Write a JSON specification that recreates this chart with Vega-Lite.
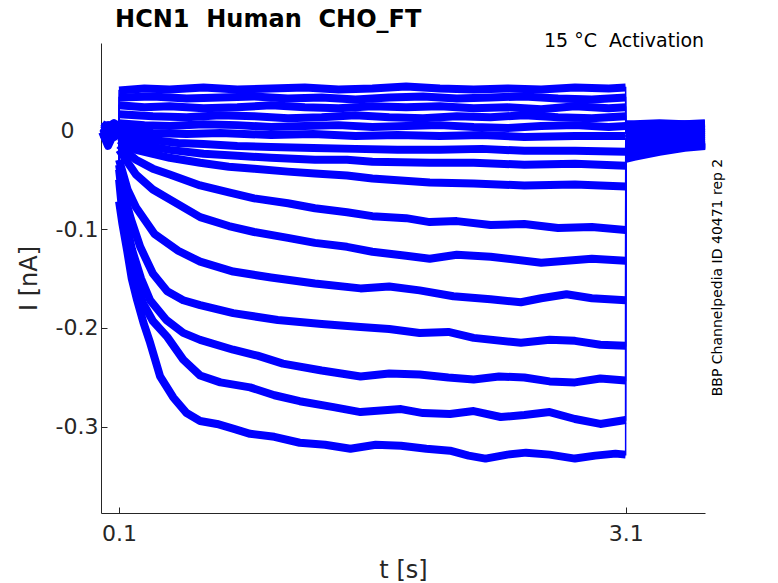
{
  "$schema": "https://vega.github.io/schema/vega-lite/v6.json",
  "description": "HCN1 activation current traces",
  "width": 604,
  "height": 470,
  "autosize": {"type": "none"},
  "padding": {"left": 101, "top": 43, "right": 73, "bottom": 70},
  "background": "white",
  "config": {
    "view": {"stroke": null},
    "axis": {
      "grid": false,
      "domainColor": "#262626",
      "tickColor": "#262626",
      "labelColor": "#262626",
      "titleColor": "#262626",
      "labelFont": "DejaVu Sans",
      "titleFont": "DejaVu Sans",
      "labelFontSize": 22,
      "titleFontSize": 24,
      "titleFontWeight": "normal",
      "tickSize": -6
    }
  },
  "datasets": {
    "traces": [
      {"s":1,"g":"a","t":0,"i":0.006},{"s":1,"g":"a","t":0.035,"i":0.003},{"s":1,"g":"a","t":0.07,"i":0.007},{"s":1,"g":"a","t":0.099,"i":0.004},
      {"s":1,"g":"b","t":0.1,"i":0.04},{"s":1,"g":"b","t":0.25,"i":0.042},{"s":1,"g":"b","t":0.4,"i":0.041},{"s":1,"g":"b","t":0.6,"i":0.043},{"s":1,"g":"b","t":0.8,"i":0.041},{"s":1,"g":"b","t":1.0,"i":0.042},{"s":1,"g":"b","t":1.2,"i":0.043},{"s":1,"g":"b","t":1.4,"i":0.041},{"s":1,"g":"b","t":1.6,"i":0.042},{"s":1,"g":"b","t":1.8,"i":0.044},{"s":1,"g":"b","t":2.0,"i":0.042},{"s":1,"g":"b","t":2.2,"i":0.041},{"s":1,"g":"b","t":2.4,"i":0.042},{"s":1,"g":"b","t":2.6,"i":0.041},{"s":1,"g":"b","t":2.8,"i":0.043},{"s":1,"g":"b","t":3.0,"i":0.042},{"s":1,"g":"b","t":3.1,"i":0.043},
      {"s":1,"g":"c","t":3.101,"i":0.006},{"s":1,"g":"c","t":3.15,"i":0.006},{"s":1,"g":"c","t":3.3,"i":0.007},{"s":1,"g":"c","t":3.45,"i":0.006},{"s":1,"g":"c","t":3.57,"i":0.007},

      {"s":2,"g":"a","t":0,"i":0.001},{"s":2,"g":"a","t":0.035,"i":0.004},{"s":2,"g":"a","t":0.07,"i":0.0},{"s":2,"g":"a","t":0.099,"i":0.002},
      {"s":2,"g":"b","t":0.1,"i":0.033},{"s":2,"g":"b","t":0.3,"i":0.034},{"s":2,"g":"b","t":0.5,"i":0.032},{"s":2,"g":"b","t":0.7,"i":0.033},{"s":2,"g":"b","t":0.9,"i":0.034},{"s":2,"g":"b","t":1.1,"i":0.032},{"s":2,"g":"b","t":1.3,"i":0.033},{"s":2,"g":"b","t":1.5,"i":0.031},{"s":2,"g":"b","t":1.7,"i":0.033},{"s":2,"g":"b","t":1.9,"i":0.034},{"s":2,"g":"b","t":2.1,"i":0.032},{"s":2,"g":"b","t":2.3,"i":0.033},{"s":2,"g":"b","t":2.5,"i":0.034},{"s":2,"g":"b","t":2.7,"i":0.032},{"s":2,"g":"b","t":2.9,"i":0.031},{"s":2,"g":"b","t":3.1,"i":0.033},
      {"s":2,"g":"c","t":3.101,"i":0.004},{"s":2,"g":"c","t":3.15,"i":0.005},{"s":2,"g":"c","t":3.3,"i":0.005},{"s":2,"g":"c","t":3.45,"i":0.006},{"s":2,"g":"c","t":3.57,"i":0.006},

      {"s":3,"g":"a","t":0,"i":-0.003},{"s":3,"g":"a","t":0.035,"i":0.0},{"s":3,"g":"a","t":0.07,"i":-0.002},{"s":3,"g":"a","t":0.099,"i":0.001},
      {"s":3,"g":"b","t":0.1,"i":0.025},{"s":3,"g":"b","t":0.25,"i":0.023},{"s":3,"g":"b","t":0.4,"i":0.024},{"s":3,"g":"b","t":0.6,"i":0.022},{"s":3,"g":"b","t":0.8,"i":0.023},{"s":3,"g":"b","t":1.0,"i":0.025},{"s":3,"g":"b","t":1.2,"i":0.023},{"s":3,"g":"b","t":1.4,"i":0.022},{"s":3,"g":"b","t":1.6,"i":0.024},{"s":3,"g":"b","t":1.8,"i":0.023},{"s":3,"g":"b","t":2.0,"i":0.024},{"s":3,"g":"b","t":2.2,"i":0.022},{"s":3,"g":"b","t":2.4,"i":0.023},{"s":3,"g":"b","t":2.6,"i":0.021},{"s":3,"g":"b","t":2.8,"i":0.024},{"s":3,"g":"b","t":3.0,"i":0.022},{"s":3,"g":"b","t":3.1,"i":0.023},
      {"s":3,"g":"c","t":3.101,"i":0.002},{"s":3,"g":"c","t":3.15,"i":0.002},{"s":3,"g":"c","t":3.3,"i":0.003},{"s":3,"g":"c","t":3.45,"i":0.003},{"s":3,"g":"c","t":3.57,"i":0.004},

      {"s":4,"g":"a","t":0,"i":0.002},{"s":4,"g":"a","t":0.035,"i":-0.004},{"s":4,"g":"a","t":0.07,"i":0.001},{"s":4,"g":"a","t":0.099,"i":-0.001},
      {"s":4,"g":"b","t":0.1,"i":0.016},{"s":4,"g":"b","t":0.3,"i":0.014},{"s":4,"g":"b","t":0.5,"i":0.013},{"s":4,"g":"b","t":0.7,"i":0.015},{"s":4,"g":"b","t":0.9,"i":0.014},{"s":4,"g":"b","t":1.1,"i":0.012},{"s":4,"g":"b","t":1.3,"i":0.013},{"s":4,"g":"b","t":1.5,"i":0.015},{"s":4,"g":"b","t":1.7,"i":0.013},{"s":4,"g":"b","t":1.9,"i":0.012},{"s":4,"g":"b","t":2.1,"i":0.014},{"s":4,"g":"b","t":2.3,"i":0.013},{"s":4,"g":"b","t":2.5,"i":0.015},{"s":4,"g":"b","t":2.7,"i":0.013},{"s":4,"g":"b","t":2.9,"i":0.012},{"s":4,"g":"b","t":3.1,"i":0.014},
      {"s":4,"g":"c","t":3.101,"i":0.0},{"s":4,"g":"c","t":3.15,"i":0.0},{"s":4,"g":"c","t":3.3,"i":0.001},{"s":4,"g":"c","t":3.45,"i":0.001},{"s":4,"g":"c","t":3.57,"i":0.002},

      {"s":5,"g":"a","t":0,"i":-0.006},{"s":5,"g":"a","t":0.035,"i":-0.002},{"s":5,"g":"a","t":0.07,"i":-0.005},{"s":5,"g":"a","t":0.099,"i":-0.001},
      {"s":5,"g":"b","t":0.1,"i":0.007},{"s":5,"g":"b","t":0.25,"i":0.005},{"s":5,"g":"b","t":0.4,"i":0.004},{"s":5,"g":"b","t":0.6,"i":0.006},{"s":5,"g":"b","t":0.8,"i":0.005},{"s":5,"g":"b","t":1.0,"i":0.003},{"s":5,"g":"b","t":1.2,"i":0.004},{"s":5,"g":"b","t":1.4,"i":0.005},{"s":5,"g":"b","t":1.6,"i":0.003},{"s":5,"g":"b","t":1.8,"i":0.004},{"s":5,"g":"b","t":2.0,"i":0.005},{"s":5,"g":"b","t":2.2,"i":0.003},{"s":5,"g":"b","t":2.4,"i":0.002},{"s":5,"g":"b","t":2.6,"i":0.004},{"s":5,"g":"b","t":2.8,"i":0.005},{"s":5,"g":"b","t":3.0,"i":0.003},{"s":5,"g":"b","t":3.1,"i":0.004},
      {"s":5,"g":"c","t":3.101,"i":-0.003},{"s":5,"g":"c","t":3.15,"i":-0.002},{"s":5,"g":"c","t":3.3,"i":-0.001},{"s":5,"g":"c","t":3.45,"i":-0.001},{"s":5,"g":"c","t":3.57,"i":0.0},

      {"s":6,"g":"a","t":0,"i":0.0},{"s":6,"g":"a","t":0.035,"i":0.002},{"s":6,"g":"a","t":0.07,"i":-0.003},{"s":6,"g":"a","t":0.099,"i":0.001},
      {"s":6,"g":"b","t":0.1,"i":0.0},{"s":6,"g":"b","t":0.3,"i":-0.003},{"s":6,"g":"b","t":0.5,"i":-0.004},{"s":6,"g":"b","t":0.7,"i":-0.003},{"s":6,"g":"b","t":1.0,"i":-0.005},{"s":6,"g":"b","t":1.25,"i":-0.004},{"s":6,"g":"b","t":1.5,"i":-0.006},{"s":6,"g":"b","t":1.75,"i":-0.005},{"s":6,"g":"b","t":2.0,"i":-0.006},{"s":6,"g":"b","t":2.25,"i":-0.005},{"s":6,"g":"b","t":2.5,"i":-0.007},{"s":6,"g":"b","t":2.8,"i":-0.006},{"s":6,"g":"b","t":3.1,"i":-0.006},
      {"s":6,"g":"c","t":3.101,"i":-0.006},{"s":6,"g":"c","t":3.15,"i":-0.005},{"s":6,"g":"c","t":3.3,"i":-0.003},{"s":6,"g":"c","t":3.45,"i":-0.003},{"s":6,"g":"c","t":3.57,"i":-0.002},

      {"s":7,"g":"a","t":0,"i":-0.004},{"s":7,"g":"a","t":0.035,"i":-0.008},{"s":7,"g":"a","t":0.07,"i":-0.005},{"s":7,"g":"a","t":0.099,"i":-0.003},
      {"s":7,"g":"b","t":0.1,"i":-0.004},{"s":7,"g":"b","t":0.2,"i":-0.008},{"s":7,"g":"b","t":0.3,"i":-0.01},{"s":7,"g":"b","t":0.45,"i":-0.013},{"s":7,"g":"b","t":0.6,"i":-0.014},{"s":7,"g":"b","t":0.8,"i":-0.016},{"s":7,"g":"b","t":1.0,"i":-0.017},{"s":7,"g":"b","t":1.25,"i":-0.018},{"s":7,"g":"b","t":1.5,"i":-0.019},{"s":7,"g":"b","t":1.75,"i":-0.02},{"s":7,"g":"b","t":2.0,"i":-0.02},{"s":7,"g":"b","t":2.25,"i":-0.019},{"s":7,"g":"b","t":2.5,"i":-0.021},{"s":7,"g":"b","t":2.8,"i":-0.021},{"s":7,"g":"b","t":3.1,"i":-0.022},
      {"s":7,"g":"c","t":3.101,"i":-0.009},{"s":7,"g":"c","t":3.15,"i":-0.008},{"s":7,"g":"c","t":3.3,"i":-0.006},{"s":7,"g":"c","t":3.45,"i":-0.005},{"s":7,"g":"c","t":3.57,"i":-0.004},

      {"s":8,"g":"a","t":0,"i":0.004},{"s":8,"g":"a","t":0.035,"i":0.001},{"s":8,"g":"a","t":0.07,"i":0.004},{"s":8,"g":"a","t":0.099,"i":0.002},
      {"s":8,"g":"b","t":0.1,"i":-0.007},{"s":8,"g":"b","t":0.2,"i":-0.014},{"s":8,"g":"b","t":0.4,"i":-0.02},{"s":8,"g":"b","t":0.6,"i":-0.024},{"s":8,"g":"b","t":0.8,"i":-0.026},{"s":8,"g":"b","t":1.0,"i":-0.028},{"s":8,"g":"b","t":1.26,"i":-0.03},{"s":8,"g":"b","t":1.45,"i":-0.03},{"s":8,"g":"b","t":1.6,"i":-0.032},{"s":8,"g":"b","t":1.94,"i":-0.033},{"s":8,"g":"b","t":2.2,"i":-0.033},{"s":8,"g":"b","t":2.5,"i":-0.035},{"s":8,"g":"b","t":2.8,"i":-0.034},{"s":8,"g":"b","t":3.1,"i":-0.036},
      {"s":8,"g":"c","t":3.101,"i":-0.012},{"s":8,"g":"c","t":3.15,"i":-0.011},{"s":8,"g":"c","t":3.3,"i":-0.008},{"s":8,"g":"c","t":3.45,"i":-0.007},{"s":8,"g":"c","t":3.57,"i":-0.006},

      {"s":9,"g":"a","t":0,"i":-0.001},{"s":9,"g":"a","t":0.035,"i":-0.005},{"s":9,"g":"a","t":0.07,"i":0.0},{"s":9,"g":"a","t":0.099,"i":-0.003},
      {"s":9,"g":"b","t":0.1,"i":-0.01},{"s":9,"g":"b","t":0.2,"i":-0.02},{"s":9,"g":"b","t":0.4,"i":-0.028},{"s":9,"g":"b","t":0.58,"i":-0.033},{"s":9,"g":"b","t":0.75,"i":-0.037},{"s":9,"g":"b","t":0.9,"i":-0.039},{"s":9,"g":"b","t":1.1,"i":-0.042},{"s":9,"g":"b","t":1.26,"i":-0.044},{"s":9,"g":"b","t":1.45,"i":-0.046},{"s":9,"g":"b","t":1.6,"i":-0.049},{"s":9,"g":"b","t":1.94,"i":-0.053},{"s":9,"g":"b","t":2.2,"i":-0.054},{"s":9,"g":"b","t":2.5,"i":-0.056},{"s":9,"g":"b","t":2.8,"i":-0.055},{"s":9,"g":"b","t":3.1,"i":-0.057},
      {"s":9,"g":"c","t":3.101,"i":-0.015},{"s":9,"g":"c","t":3.15,"i":-0.014},{"s":9,"g":"c","t":3.3,"i":-0.011},{"s":9,"g":"c","t":3.45,"i":-0.009},{"s":9,"g":"c","t":3.57,"i":-0.008},

      {"s":10,"g":"a","t":0,"i":0.002},{"s":10,"g":"a","t":0.035,"i":-0.002},{"s":10,"g":"a","t":0.07,"i":0.003},{"s":10,"g":"a","t":0.099,"i":0.0},
      {"s":10,"g":"b","t":0.1,"i":-0.015},{"s":10,"g":"b","t":0.2,"i":-0.03},{"s":10,"g":"b","t":0.3,"i":-0.039},{"s":10,"g":"b","t":0.4,"i":-0.045},{"s":10,"g":"b","t":0.58,"i":-0.056},{"s":10,"g":"b","t":0.75,"i":-0.063},{"s":10,"g":"b","t":0.9,"i":-0.069},{"s":10,"g":"b","t":1.1,"i":-0.074},{"s":10,"g":"b","t":1.26,"i":-0.079},{"s":10,"g":"b","t":1.45,"i":-0.083},{"s":10,"g":"b","t":1.6,"i":-0.087},{"s":10,"g":"b","t":1.8,"i":-0.089},{"s":10,"g":"b","t":1.94,"i":-0.093},{"s":10,"g":"b","t":2.1,"i":-0.092},{"s":10,"g":"b","t":2.3,"i":-0.096},{"s":10,"g":"b","t":2.5,"i":-0.095},{"s":10,"g":"b","t":2.7,"i":-0.099},{"s":10,"g":"b","t":2.9,"i":-0.098},{"s":10,"g":"b","t":3.1,"i":-0.101},
      {"s":10,"g":"c","t":3.101,"i":-0.018},{"s":10,"g":"c","t":3.15,"i":-0.017},{"s":10,"g":"c","t":3.3,"i":-0.013},{"s":10,"g":"c","t":3.45,"i":-0.011},{"s":10,"g":"c","t":3.57,"i":-0.01},

      {"s":11,"g":"a","t":0,"i":-0.006},{"s":11,"g":"a","t":0.035,"i":-0.003},{"s":11,"g":"a","t":0.07,"i":-0.007},{"s":11,"g":"a","t":0.099,"i":-0.004},
      {"s":11,"g":"b","t":0.1,"i":-0.02},{"s":11,"g":"b","t":0.2,"i":-0.045},{"s":11,"g":"b","t":0.3,"i":-0.06},{"s":11,"g":"b","t":0.4,"i":-0.07},{"s":11,"g":"b","t":0.58,"i":-0.088},{"s":11,"g":"b","t":0.75,"i":-0.097},{"s":11,"g":"b","t":0.9,"i":-0.103},{"s":11,"g":"b","t":1.1,"i":-0.109},{"s":11,"g":"b","t":1.26,"i":-0.114},{"s":11,"g":"b","t":1.45,"i":-0.118},{"s":11,"g":"b","t":1.6,"i":-0.123},{"s":11,"g":"b","t":1.8,"i":-0.127},{"s":11,"g":"b","t":1.94,"i":-0.13},{"s":11,"g":"b","t":2.1,"i":-0.126},{"s":11,"g":"b","t":2.3,"i":-0.128},{"s":11,"g":"b","t":2.6,"i":-0.134},{"s":11,"g":"b","t":2.9,"i":-0.13},{"s":11,"g":"b","t":3.1,"i":-0.132},
      {"s":11,"g":"c","t":3.101,"i":-0.021},{"s":11,"g":"c","t":3.15,"i":-0.019},{"s":11,"g":"c","t":3.3,"i":-0.015},{"s":11,"g":"c","t":3.45,"i":-0.013},{"s":11,"g":"c","t":3.57,"i":-0.011},

      {"s":12,"g":"a","t":0,"i":0.003},{"s":12,"g":"a","t":0.035,"i":0.005},{"s":12,"g":"a","t":0.07,"i":0.001},{"s":12,"g":"a","t":0.099,"i":0.004},
      {"s":12,"g":"b","t":0.1,"i":-0.03},{"s":12,"g":"b","t":0.15,"i":-0.06},{"s":12,"g":"b","t":0.2,"i":-0.078},{"s":12,"g":"b","t":0.31,"i":-0.105},{"s":12,"g":"b","t":0.45,"i":-0.122},{"s":12,"g":"b","t":0.58,"i":-0.133},{"s":12,"g":"b","t":0.776,"i":-0.143},{"s":12,"g":"b","t":1.0,"i":-0.149},{"s":12,"g":"b","t":1.26,"i":-0.155},{"s":12,"g":"b","t":1.53,"i":-0.16},{"s":12,"g":"b","t":1.7,"i":-0.158},{"s":12,"g":"b","t":1.88,"i":-0.162},{"s":12,"g":"b","t":2.08,"i":-0.168},{"s":12,"g":"b","t":2.3,"i":-0.171},{"s":12,"g":"b","t":2.48,"i":-0.174},{"s":12,"g":"b","t":2.6,"i":-0.17},{"s":12,"g":"b","t":2.75,"i":-0.166},{"s":12,"g":"b","t":2.9,"i":-0.17},{"s":12,"g":"b","t":3.1,"i":-0.172},
      {"s":12,"g":"c","t":3.101,"i":-0.023},{"s":12,"g":"c","t":3.15,"i":-0.021},{"s":12,"g":"c","t":3.3,"i":-0.017},{"s":12,"g":"c","t":3.45,"i":-0.014},{"s":12,"g":"c","t":3.57,"i":-0.012},

      {"s":13,"g":"a","t":0,"i":-0.002},{"s":13,"g":"a","t":0.035,"i":-0.016},{"s":13,"g":"a","t":0.07,"i":-0.003},{"s":13,"g":"a","t":0.099,"i":-0.001},
      {"s":13,"g":"b","t":0.1,"i":-0.035},{"s":13,"g":"b","t":0.13,"i":-0.065},{"s":13,"g":"b","t":0.17,"i":-0.09},{"s":13,"g":"b","t":0.225,"i":-0.118},{"s":13,"g":"b","t":0.3,"i":-0.145},{"s":13,"g":"b","t":0.385,"i":-0.163},{"s":13,"g":"b","t":0.48,"i":-0.172},{"s":13,"g":"b","t":0.58,"i":-0.177},{"s":13,"g":"b","t":0.776,"i":-0.185},{"s":13,"g":"b","t":1.04,"i":-0.192},{"s":13,"g":"b","t":1.3,"i":-0.196},{"s":13,"g":"b","t":1.53,"i":-0.199},{"s":13,"g":"b","t":1.7,"i":-0.201},{"s":13,"g":"b","t":1.88,"i":-0.205},{"s":13,"g":"b","t":2.05,"i":-0.204},{"s":13,"g":"b","t":2.2,"i":-0.21},{"s":13,"g":"b","t":2.48,"i":-0.215},{"s":13,"g":"b","t":2.65,"i":-0.212},{"s":13,"g":"b","t":2.8,"i":-0.213},{"s":13,"g":"b","t":2.95,"i":-0.217},{"s":13,"g":"b","t":3.1,"i":-0.218},
      {"s":13,"g":"c","t":3.101,"i":-0.025},{"s":13,"g":"c","t":3.15,"i":-0.023},{"s":13,"g":"c","t":3.3,"i":-0.018},{"s":13,"g":"c","t":3.45,"i":-0.015},{"s":13,"g":"c","t":3.57,"i":-0.013},

      {"s":14,"g":"a","t":0,"i":0.0},{"s":14,"g":"a","t":0.035,"i":-0.003},{"s":14,"g":"a","t":0.07,"i":0.001},{"s":14,"g":"a","t":0.099,"i":-0.002},
      {"s":14,"g":"b","t":0.1,"i":-0.04},{"s":14,"g":"b","t":0.12,"i":-0.07},{"s":14,"g":"b","t":0.15,"i":-0.1},{"s":14,"g":"b","t":0.177,"i":-0.121},{"s":14,"g":"b","t":0.23,"i":-0.15},{"s":14,"g":"b","t":0.284,"i":-0.172},{"s":14,"g":"b","t":0.38,"i":-0.192},{"s":14,"g":"b","t":0.48,"i":-0.205},{"s":14,"g":"b","t":0.58,"i":-0.212},{"s":14,"g":"b","t":0.776,"i":-0.222},{"s":14,"g":"b","t":0.92,"i":-0.228},{"s":14,"g":"b","t":1.07,"i":-0.236},{"s":14,"g":"b","t":1.3,"i":-0.243},{"s":14,"g":"b","t":1.53,"i":-0.249},{"s":14,"g":"b","t":1.7,"i":-0.246},{"s":14,"g":"b","t":1.88,"i":-0.247},{"s":14,"g":"b","t":2.05,"i":-0.25},{"s":14,"g":"b","t":2.2,"i":-0.252},{"s":14,"g":"b","t":2.35,"i":-0.249},{"s":14,"g":"b","t":2.5,"i":-0.25},{"s":14,"g":"b","t":2.65,"i":-0.254},{"s":14,"g":"b","t":2.8,"i":-0.255},{"s":14,"g":"b","t":2.95,"i":-0.251},{"s":14,"g":"b","t":3.1,"i":-0.253},
      {"s":14,"g":"c","t":3.101,"i":-0.027},{"s":14,"g":"c","t":3.15,"i":-0.025},{"s":14,"g":"c","t":3.3,"i":-0.02},{"s":14,"g":"c","t":3.45,"i":-0.016},{"s":14,"g":"c","t":3.57,"i":-0.014},

      {"s":15,"g":"a","t":0,"i":-0.004},{"s":15,"g":"a","t":0.035,"i":0.0},{"s":15,"g":"a","t":0.07,"i":-0.005},{"s":15,"g":"a","t":0.099,"i":-0.002},
      {"s":15,"g":"b","t":0.1,"i":-0.05},{"s":15,"g":"b","t":0.12,"i":-0.085},{"s":15,"g":"b","t":0.153,"i":-0.121},{"s":15,"g":"b","t":0.2,"i":-0.15},{"s":15,"g":"b","t":0.242,"i":-0.175},{"s":15,"g":"b","t":0.3,"i":-0.193},{"s":15,"g":"b","t":0.385,"i":-0.209},{"s":15,"g":"b","t":0.48,"i":-0.232},{"s":15,"g":"b","t":0.58,"i":-0.248},{"s":15,"g":"b","t":0.7,"i":-0.255},{"s":15,"g":"b","t":0.876,"i":-0.26},{"s":15,"g":"b","t":1.02,"i":-0.268},{"s":15,"g":"b","t":1.17,"i":-0.274},{"s":15,"g":"b","t":1.37,"i":-0.28},{"s":15,"g":"b","t":1.53,"i":-0.285},{"s":15,"g":"b","t":1.77,"i":-0.282},{"s":15,"g":"b","t":1.9,"i":-0.286},{"s":15,"g":"b","t":2.06,"i":-0.287},{"s":15,"g":"b","t":2.2,"i":-0.284},{"s":15,"g":"b","t":2.36,"i":-0.29},{"s":15,"g":"b","t":2.5,"i":-0.288},{"s":15,"g":"b","t":2.65,"i":-0.285},{"s":15,"g":"b","t":2.8,"i":-0.292},{"s":15,"g":"b","t":2.95,"i":-0.297},{"s":15,"g":"b","t":3.1,"i":-0.293},
      {"s":15,"g":"c","t":3.101,"i":-0.028},{"s":15,"g":"c","t":3.15,"i":-0.026},{"s":15,"g":"c","t":3.3,"i":-0.021},{"s":15,"g":"c","t":3.45,"i":-0.017},{"s":15,"g":"c","t":3.57,"i":-0.015},

      {"s":16,"g":"a","t":0,"i":0.002},{"s":16,"g":"a","t":0.035,"i":-0.001},{"s":16,"g":"a","t":0.07,"i":0.003},{"s":16,"g":"a","t":0.099,"i":0.001},
      {"s":16,"g":"b","t":0.1,"i":-0.072},{"s":16,"g":"b","t":0.12,"i":-0.095},{"s":16,"g":"b","t":0.147,"i":-0.121},{"s":16,"g":"b","t":0.175,"i":-0.15},{"s":16,"g":"b","t":0.207,"i":-0.172},{"s":16,"g":"b","t":0.245,"i":-0.195},{"s":16,"g":"b","t":0.284,"i":-0.215},{"s":16,"g":"b","t":0.343,"i":-0.249},{"s":16,"g":"b","t":0.42,"i":-0.27},{"s":16,"g":"b","t":0.5,"i":-0.286},{"s":16,"g":"b","t":0.58,"i":-0.294},{"s":16,"g":"b","t":0.68,"i":-0.297},{"s":16,"g":"b","t":0.78,"i":-0.302},{"s":16,"g":"b","t":0.876,"i":-0.307},{"s":16,"g":"b","t":1.02,"i":-0.31},{"s":16,"g":"b","t":1.17,"i":-0.316},{"s":16,"g":"b","t":1.32,"i":-0.318},{"s":16,"g":"b","t":1.47,"i":-0.322},{"s":16,"g":"b","t":1.62,"i":-0.318},{"s":16,"g":"b","t":1.77,"i":-0.319},{"s":16,"g":"b","t":1.92,"i":-0.322},{"s":16,"g":"b","t":2.06,"i":-0.324},{"s":16,"g":"b","t":2.17,"i":-0.329},{"s":16,"g":"b","t":2.27,"i":-0.332},{"s":16,"g":"b","t":2.4,"i":-0.328},{"s":16,"g":"b","t":2.51,"i":-0.326},{"s":16,"g":"b","t":2.65,"i":-0.328},{"s":16,"g":"b","t":2.8,"i":-0.332},{"s":16,"g":"b","t":2.92,"i":-0.329},{"s":16,"g":"b","t":3.04,"i":-0.327},{"s":16,"g":"b","t":3.1,"i":-0.328},
      {"s":16,"g":"c","t":3.101,"i":-0.029},{"s":16,"g":"c","t":3.15,"i":-0.027},{"s":16,"g":"c","t":3.3,"i":-0.022},{"s":16,"g":"c","t":3.45,"i":-0.018},{"s":16,"g":"c","t":3.57,"i":-0.016}
    ]
  },
  "layer": [
    {
      "data": {"name": "traces"},
      "mark": {"type": "line", "color": "#0000ff", "strokeWidth": 8, "strokeCap": "butt", "strokeJoin": "round"},
      "encoding": {
        "x": {
          "field": "t", "type": "quantitative",
          "scale": {"domain": [-0.007, 3.57], "nice": false, "zero": false},
          "axis": {"title": "t [s]", "values": [0.1, 3.1], "format": ".1f", "labelPadding": 16, "titlePadding": 14}
        },
        "y": {
          "field": "i", "type": "quantitative",
          "scale": {"domain": [-0.387, 0.088], "nice": false, "zero": false},
          "axis": {
            "title": "I [nA]", "values": [-0.3, -0.2, -0.1, 0],
            "labelExpr": "datum.value == 0 ? '0' : '-' + format(-datum.value, '.1f')",
            "labelPadding": {"condition": {"test": "datum.value == 0", "value": 33}, "value": 9},
            "titlePadding": 14
          }
        },
        "detail": [{"field": "s"}, {"field": "g"}]
      }
    },
    {
      "data": {"name": "traces"},
      "mark": {"type": "line", "color": "#0000ff", "strokeWidth": 1.5},
      "encoding": {
        "x": {"field": "t", "type": "quantitative"},
        "y": {"field": "i", "type": "quantitative"},
        "detail": {"field": "s"}
      }
    },
    {
      "data": {"values": [{"t": 0.0763, "i": 0.104, "label": "HCN1\u00a0 Human\u00a0 CHO_FT"}]},
      "mark": {"type": "text", "font": "DejaVu Sans", "fontSize": 24, "fontWeight": "bold", "color": "#000000", "align": "left", "baseline": "alphabetic"},
      "encoding": {
        "x": {"field": "t", "type": "quantitative"},
        "y": {"field": "i", "type": "quantitative"},
        "text": {"field": "label"}
      }
    },
    {
      "data": {"values": [{"t": 3.565, "i": 0.0838, "label": "15 °C\u00a0 Activation"}]},
      "mark": {"type": "text", "font": "DejaVu Sans", "fontSize": 19, "color": "#000000", "align": "right", "baseline": "alphabetic"},
      "encoding": {
        "x": {"field": "t", "type": "quantitative"},
        "y": {"field": "i", "type": "quantitative"},
        "text": {"field": "label"}
      }
    },
    {
      "data": {"values": [{"t": 3.645, "i": -0.149, "label": "BBP Channelpedia ID 40471 rep 2"}]},
      "mark": {"type": "text", "font": "DejaVu Sans", "fontSize": 14, "color": "#000000", "align": "center", "baseline": "middle", "angle": 270},
      "encoding": {
        "x": {"field": "t", "type": "quantitative"},
        "y": {"field": "i", "type": "quantitative"},
        "text": {"field": "label"}
      }
    }
  ]
}
